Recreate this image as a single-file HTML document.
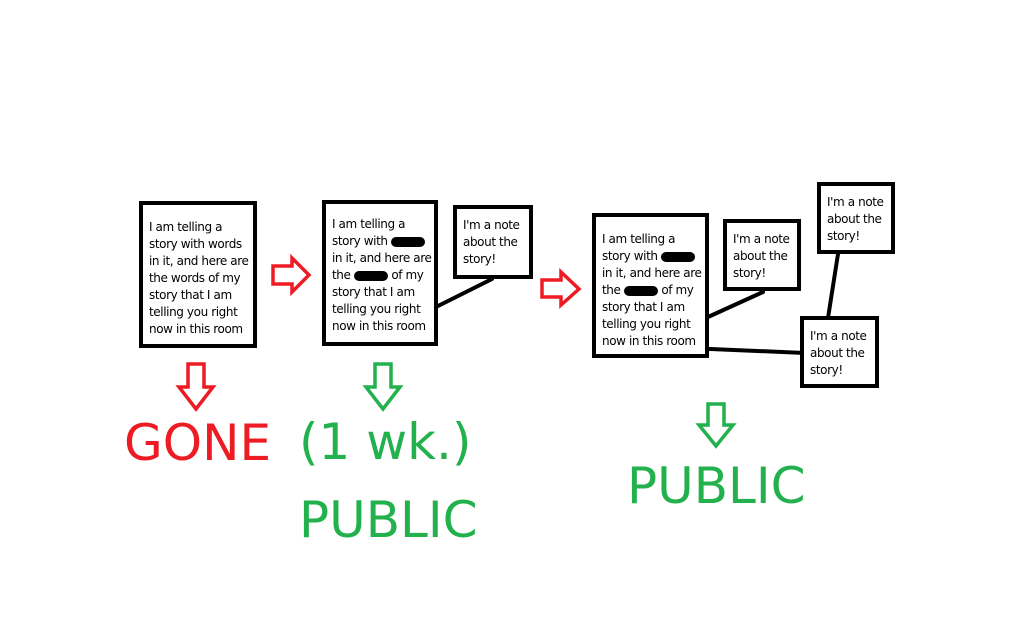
<!DOCTYPE html>
<html><head><style>
body{margin:0;width:1024px;height:640px;background:#fff;position:relative;overflow:hidden;font-family:"DejaVu Sans","Liberation Sans",sans-serif}
.b{position:absolute;border:4px solid #000;box-sizing:border-box;background:#fff;font-size:12px;line-height:17px;color:#000;padding:8px 0 0 6px;white-space:nowrap;letter-spacing:-0.4px}
.t{position:absolute;font-family:"DejaVu Sans","Liberation Sans",sans-serif;font-size:50px;line-height:1;white-space:nowrap}
.r{color:#ed1c24}.g{color:#22b14c}
.blot{display:inline-block;width:34px;height:10px;background:#000;border-radius:5px;vertical-align:middle}
</style></head><body>
<svg width="1024" height="640" style="position:absolute;left:0;top:0">
<g stroke="#000" stroke-width="4" stroke-linecap="round">
<line x1="428" y1="311" x2="492" y2="279"/>
<line x1="697" y1="322" x2="763" y2="292"/>
<line x1="687" y1="348" x2="805" y2="353"/>
<line x1="838" y1="254" x2="828" y2="318"/>
</g>
<g fill="none" stroke-width="3.5" stroke-linejoin="miter">
<polygon stroke="#ed1c24" points="273,266 292,266 292,258 309,275 292,292 292,284 273,284"/>
<polygon stroke="#ed1c24" points="542,280 561,280 561,272 579,289 561,305 561,297 542,297"/>
<polygon stroke="#ed1c24" points="188,364 204,364 204,387 213,387 196,409 179,387 188,387"/>
<polygon stroke="#22b14c" points="375,364 391,364 391,387 400,387 383,409 366,387 375,387"/>
<polygon stroke="#22b14c" points="708,404 724,404 724,425 733,425 716,446 699,425 708,425"/>
</g>
</svg>
<div class="b" style="left:139px;top:201px;width:118px;height:147px;padding-top:14px">I am telling a<br>story with words<br>in it, and here are<br>the words of my<br>story that I am<br>telling you right<br>now in this room</div>
<div class="b" style="left:322px;top:200px;width:116px;height:146px;padding-top:12px">I am telling a<br>story with <span class="blot"></span><br>in it, and here are<br>the <span class="blot"></span> of my<br>story that I am<br>telling you right<br>now in this room</div>
<div class="b" style="left:453px;top:205px;width:80px;height:74px">I'm a note<br>about the<br>story!</div>
<div class="b" style="left:592px;top:213px;width:117px;height:145px;padding-top:14px">I am telling a<br>story with <span class="blot"></span><br>in it, and here are<br>the <span class="blot"></span> of my<br>story that I am<br>telling you right<br>now in this room</div>
<div class="b" style="left:723px;top:219px;width:78px;height:72px">I'm a note<br>about the<br>story!</div>
<div class="b" style="left:817px;top:182px;width:78px;height:72px">I'm a note<br>about the<br>story!</div>
<div class="b" style="left:800px;top:316px;width:79px;height:72px">I'm a note<br>about the<br>story!</div>
<div class="t r" style="left:124px;top:418px">GONE</div>
<div class="t g" style="left:299px;top:417px">(1 wk.)</div>
<div class="t g" style="left:299px;top:495px">PUBLIC</div>
<div class="t g" style="left:627px;top:461px">PUBLIC</div>
</body></html>
